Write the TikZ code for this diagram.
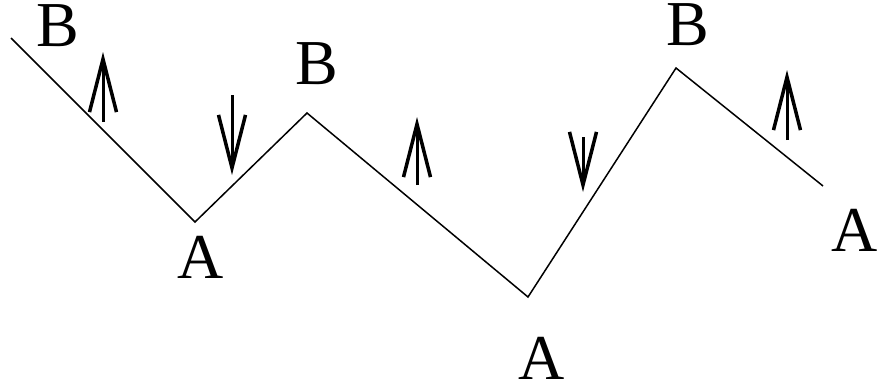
\documentclass[tikz,border=0pt]{standalone}
\usepackage{fontspec}
\setmainfont{Liberation Serif}
\usetikzlibrary{arrows.meta}
\begin{document}
\begin{tikzpicture}[x=1pt,y=-1pt,
  zig/.style={line width=1.5pt, line join=miter},
  lab/.style={inner sep=0pt, font=\fontsize{64}{64}\selectfont},
  spin/.style={line width=3pt, -{Straight Barb[length=53pt,width=27pt,line width=3.5pt]}}]
\useasboundingbox (0,0) rectangle (878,388);
\coordinate (p0) at (11,38);
\coordinate (p1) at (195,222);
\coordinate (p2) at (307,113);
\coordinate (p3) at (528,297);
\coordinate (p4) at (676,68);
\coordinate (p5) at (823,186);
\draw[zig] (p0) -- (p1) -- (p2) -- (p3) -- (p4) -- (p5);
\node[lab] (b1) at (58,26) {B};
\node[lab] (b2) at (317,64) {B};
\node[lab] (b3) at (688,25) {B};
\node[lab] (a1) at (201,257) {A};
\node[lab] (a2) at (542,358) {A};
\node[lab] (a3) at (855,230) {A};
\coordinate (s1a) at (103,122); \coordinate (s1b) at (103,52);
\coordinate (s2a) at (232,95);  \coordinate (s2b) at (232,175);
\coordinate (s3a) at (417,185); \coordinate (s3b) at (417,117);
\coordinate (s4a) at (583,137); \coordinate (s4b) at (583,192);
\coordinate (s5a) at (787,140); \coordinate (s5b) at (787,70);
\draw[spin] (s1a) -- (s1b);
\draw[spin] (s2a) -- (s2b);
\draw[spin] (s3a) -- (s3b);
\draw[spin] (s4a) -- (s4b);
\draw[spin] (s5a) -- (s5b);
\end{tikzpicture}
\end{document}
